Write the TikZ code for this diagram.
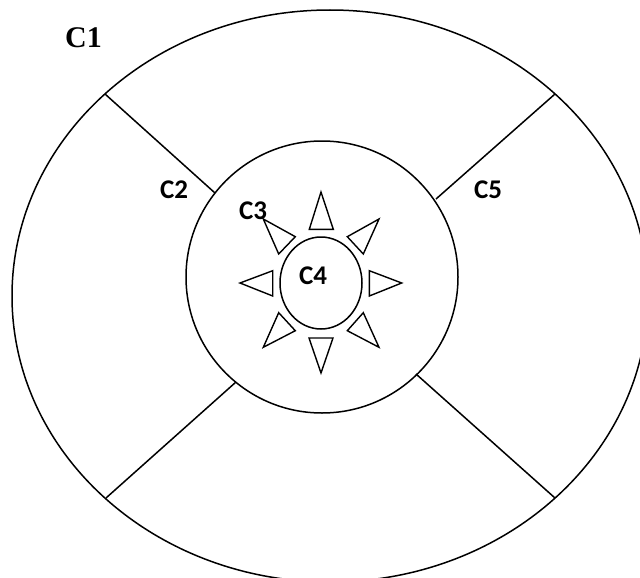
\documentclass[tikz,border=0pt]{standalone}
\usepackage{fontspec}
\newfontfamily\serifbold{Liberation Serif}[BoldFont={* Bold}]
\newfontfamily\sansbold{Carlito}[BoldFont={* Bold}]
\begin{document}
\begin{tikzpicture}[x=1pt,y=-1pt,
  shape line/.style={draw=black,line width=1.5pt},
  ray/.style={draw=black,line width=1.4pt,line join=miter},
  serif label/.style={inner sep=0pt,anchor=base west,font=\serifbold\bfseries\fontsize{30}{30}\selectfont},
  sans label/.style={inner sep=0pt,anchor=base west,font=\sansbold\bfseries\fontsize{27}{27}\selectfont}]
\useasboundingbox (0,0) rectangle (640,578);
\clip (0,0) rectangle (640,578);
\fill[white] (0,0) rectangle (640,578);
% centres
\coordinate (outerc) at (330,296);
\coordinate (midc) at (322,277);
\coordinate (innerc) at (321,283);
% outer ellipse C1, middle circle, inner ellipse C4
\draw[shape line] (outerc) ellipse [x radius=318pt, y radius=286pt];
\draw[shape line] (midc) circle [radius=136pt];
\draw[shape line] (innerc) ellipse [x radius=41pt, y radius=46pt];
% spoke end points
\coordinate (ulo) at (105,94);   \coordinate (uli) at (215,193);
\coordinate (uro) at (555,94);   \coordinate (uri) at (436,199);
\coordinate (llo) at (106,498);  \coordinate (lli) at (236,382);
\coordinate (lro) at (555,498);  \coordinate (lri) at (416,374);
\draw[shape line] (ulo) -- (uli);
\draw[shape line] (uro) -- (uri);
\draw[shape line] (llo) -- (lli);
\draw[shape line] (lro) -- (lri);
% rays
\draw[ray] (321,192) -- (309.3,229.3) -- (333.3,229.3) -- cycle;
\draw[ray] (321,373) -- (309,338) -- (333,338) -- cycle;
\draw[ray] (240,283) -- (272.7,270.7) -- (272.7,296) -- cycle;
\draw[ray] (401.7,283) -- (369.3,270.7) -- (369.3,296) -- cycle;
\draw[ray] (263.3,219) -- (278.7,254) -- (295.3,236.7) -- cycle;
\draw[ray] (379,219) -- (347.3,236.7) -- (363.3,254) -- cycle;
\draw[ray] (263.3,347.3) -- (278.7,312.7) -- (295.3,330.7) -- cycle;
\draw[ray] (379,347.3) -- (347.3,330.7) -- (363.3,312.7) -- cycle;
% labels
\node[serif label] (c1) at (65,48) {C1};
\node[sans label] (c2) at (160,198) {C2};
\node[sans label] (c3) at (239,219) {C3};
\node[sans label] (c4) at (299,284) {C4};
\node[sans label] (c5) at (474,198) {C5};
\end{tikzpicture}
\end{document}
